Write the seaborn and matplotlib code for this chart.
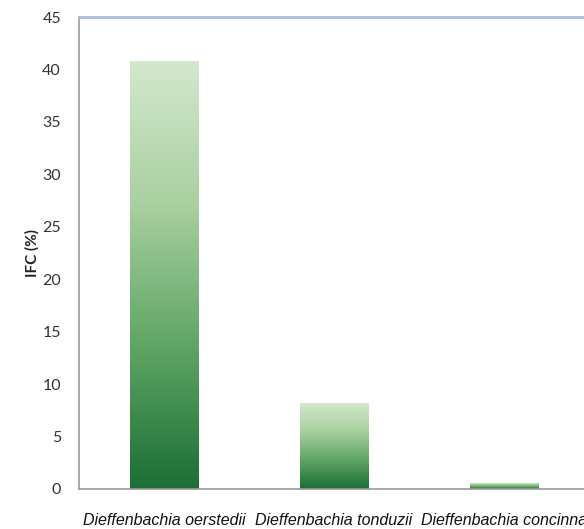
import numpy as np
import pandas as pd
import matplotlib
matplotlib.use("Agg")
import matplotlib.pyplot as plt
import seaborn as sns
from matplotlib.colors import LinearSegmentedColormap

species = ["Dieffenbachia oerstedii", "Dieffenbachia tonduzii", "Dieffenbachia concinna"]
ifc = [40.8, 8.2, 0.6]
yticks = [0, 5, 10, 15, 20, 25, 30, 35, 40, 45]

sns.set_style("white")
plt.rcParams["font.family"] = ["Lato", "DejaVu Sans"]

fig = plt.figure(figsize=(5.84, 5.29), dpi=100)
ax = fig.add_axes([79/584, 40/529, 1 - 79/584, (489-17)/529])

df = pd.DataFrame({"species": species, "ifc": ifc})
sns.barplot(data=df, x="species", y="ifc", ax=ax, width=0.4, color="#4a9a55", errorbar=None)

cmap = LinearSegmentedColormap.from_list("g", ["#1b6e35", "#5fa565", "#a9d0a0", "#d3e8cd"])
grad = np.linspace(0, 1, 256).reshape(-1, 1)
for p in list(ax.patches):
    x0, y0 = p.get_x(), p.get_y()
    w, h = p.get_width(), p.get_height()
    p.set_alpha(0)
    im = ax.imshow(grad, extent=[x0, x0 + w, y0, y0 + h], origin="lower",
                   cmap=cmap, aspect="auto", zorder=2)
    clip = plt.Rectangle((x0, y0), w, h, transform=ax.transData)
    im.set_clip_path(clip)

ax.set_xlim(-0.5, 2.47)
ax.set_ylim(0, 45)
ax.set_yticks(yticks)
ax.set_yticklabels([str(t) for t in yticks], fontsize=11.5, color="#333333")
ax.tick_params(axis="y", length=0, pad=13)
ax.tick_params(axis="x", length=0, pad=17)
for lab in ax.get_xticklabels():
    lab.set_fontstyle("italic")
    lab.set_family(["Liberation Sans", "DejaVu Sans"])
    lab.set_fontsize(11.5)
    lab.set_color("#111111")

ax.set_xlabel("")
ax.set_ylabel("IFC (%)", fontsize=11, fontweight="bold", color="#222222", labelpad=2)

ax.spines["left"].set_color("#9a9a9a")
ax.spines["bottom"].set_color("#9a9a9a")
ax.spines["top"].set_color("#a8bedb")
ax.spines["top"].set_linewidth(2)
ax.spines["right"].set_visible(False)
for s in ["left", "bottom"]:
    ax.spines[s].set_linewidth(1.2)

fig.savefig("out.png", dpi=100)
